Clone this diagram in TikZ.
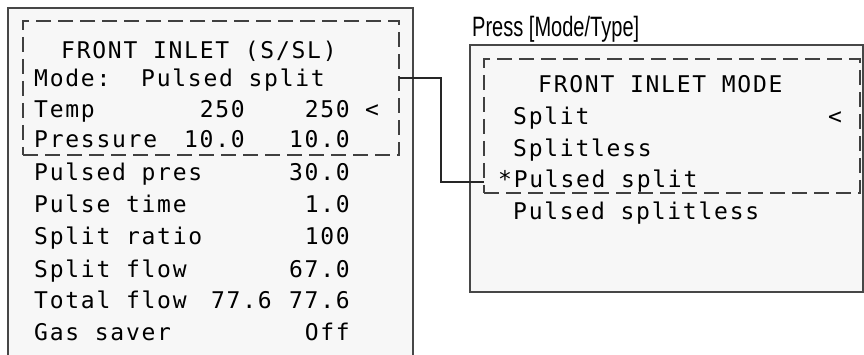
\documentclass[tikz,border=0pt]{standalone}
\usepackage{fontspec}
\setmainfont{Liberation Sans}
\newfontfamily\lcdfont[LetterSpace=7.6]{DejaVu Sans Mono}
\begin{document}
\begin{tikzpicture}[x=1pt,y=-1pt,
  outerline/.style={draw=black!72, line width=2pt},
  panelfill/.style={fill=black!3},
  dashbox/.style={draw=black!75, line width=1.8pt, dash pattern=on 15pt off 7pt, inner sep=0pt, outer sep=0pt, anchor=north west},
  lcd/.style={font=\lcdfont\fontsize{23}{27}\selectfont, inner sep=0pt, text=black},
  lab/.style={lcd, anchor=base west},
  val/.style={lcd, anchor=base east},
  link/.style={draw=black!85, line width=1.5pt}]
\useasboundingbox (0,0) rectangle (864,355);
% left panel
\fill[panelfill] (8,8) rectangle (413,362);
\draw[outerline] (8,362) -- (8,8) -- (413,8) -- (413,362);
\node[dashbox, minimum width=376pt, minimum height=134pt] (ldash) at (23,21) {};
% right panel
\fill[panelfill] (470,45) rectangle (863,292);
\draw[outerline] (470,45) rectangle (863,292);
\node[dashbox, minimum width=376pt, minimum height=134pt] (rdash) at (484,59) {};
% label
\node[anchor=base west, inner sep=0pt, font=\fontsize{28}{32}\selectfont] (press) at (472,37) {\resizebox{167pt}{\height}{Press [Mode/Type]}};
% connector
\coordinate (c1) at (441,78);
\coordinate (c2) at (441,182);
\draw[link] (ldash.east |- c1) -- (c1) -- (c2) -- (rdash.west |- c2);
% left texts
\node[lab] (t0) at (61,59) {FRONT INLET (S/SL)};
\node[lab] (t1) at (34,87) {Mode:};
\node[lab] (t1v) at (141,87) {Pulsed split};
\node[lab] (t2) at (34,118) {Temp};
\node[val] (t2a) at (245,118) {250};
\node[val] (t2b) at (350,118) {250};
\node[lab] (t2c) at (365,118) {<};
\node[lab] (t3) at (34,148) {Pressure};
\node[val] (t3a) at (245,148) {10.0};
\node[val] (t3b) at (350,148) {10.0};
\node[lab] (t4) at (34,181) {Pulsed pres};
\node[val] (t4b) at (350,181) {30.0};
\node[lab] (t5) at (34,213) {Pulse time};
\node[val] (t5b) at (350,213) {1.0};
\node[lab] (t6) at (34,245) {Split ratio};
\node[val] (t6b) at (350,245) {100};
\node[lab] (t7) at (34,277) {Split flow};
\node[val] (t7b) at (350,277) {67.0};
\node[lab] (t8) at (34,308) {Total flow};
\node[val] (t8a) at (272,308) {77.6};
\node[val] (t8b) at (350,308) {77.6};
\node[lab] (t9) at (34,340) {Gas saver};
\node[val] (t9b) at (350,340) {Off};
% right texts
\node[lab] (r0) at (538,93) {FRONT INLET MODE};
\node[lab] (r1) at (513,125) {Split};
\node[lab] (r1c) at (828,125) {<};
\node[lab] (r2) at (513,157) {Splitless};
\node[lab] (r3) at (498,188) {*Pulsed split};
\node[lab] (r4) at (513,220) {Pulsed splitless};
\end{tikzpicture}
\end{document}
